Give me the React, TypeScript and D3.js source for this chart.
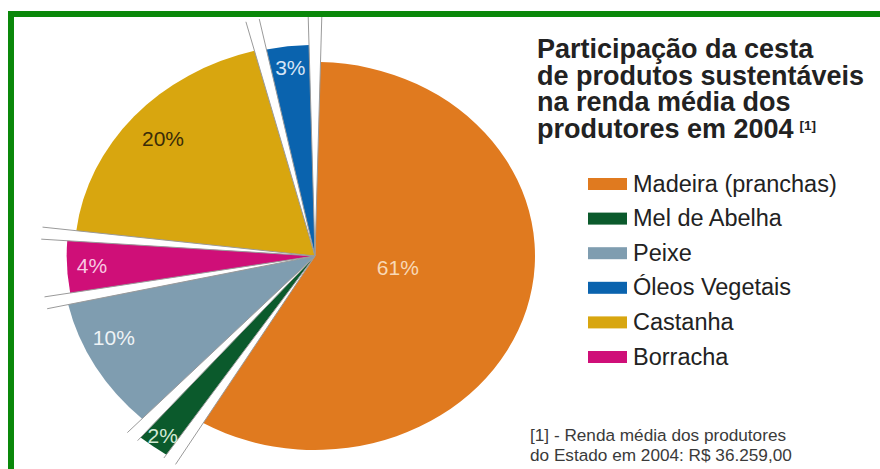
import React from "react";
import * as d3 from "d3";

// ---- data ----
const categories = ["Madeira (pranchas)", "Mel de Abelha", "Peixe", "Óleos Vegetais", "Castanha", "Borracha"];
const shares = [61, 2, 10, 3, 20, 4];
const pieOrder = ["Madeira (pranchas)", "Mel de Abelha", "Peixe", "Borracha", "Castanha", "Óleos Vegetais"];
const titleLines = ["Participação da cesta", "de produtos sustentáveis", "na renda média dos", "produtores em 2004"];
const titleNote = "[1]";
const footnoteLines = ["[1] - Renda média dos produtores", "do Estado em 2004: R$ 36.259,00"];

// ---- styles ----
const colors: Record<string, string> = {
  "Madeira (pranchas)": "#e07a1f",
  "Mel de Abelha": "#0b5a2c",
  "Peixe": "#7f9db0",
  "Óleos Vegetais": "#0a63ae",
  "Castanha": "#d8a60f",
  "Borracha": "#cf0f78",
};
const labelColors: Record<string, string> = {
  "Madeira (pranchas)": "#f8d8b6",
  "Mel de Abelha": "#d3ead6",
  "Peixe": "#eef3f6",
  "Óleos Vegetais": "#d6e5f6",
  "Castanha": "#3a2c08",
  "Borracha": "#f8c8e2",
};
const outerR: Record<string, number> = {
  "Madeira (pranchas)": 194,
  "Mel de Abelha": 238,
  "Peixe": 223,
  "Borracha": 219,
  "Castanha": 212,
  "Óleos Vegetais": 211,
};
const labelR: Record<string, number> = {
  "Madeira (pranchas)": 74,
  "Mel de Abelha": 224,
  "Peixe": 195,
  "Borracha": 197,
  "Castanha": 178,
  "Óleos Vegetais": 190,
};
const labelNudge: Record<string, number> = {
  "Madeira (pranchas)": -0.12,
  "Mel de Abelha": 0,
  "Peixe": 0.09,
  "Borracha": 0,
  "Castanha": 0,
  "Óleos Vegetais": 0,
};

const FONT = "'Liberation Sans', Arial, Helvetica, sans-serif";
const CX = 315;
const CY = 256;
const SX = 1.134;
const PAD = 0.05;
const LINE_R = 242;

export default function App() {
  const rows = pieOrder.map((c) => ({ cat: c, value: shares[categories.indexOf(c)] }));
  const pie = d3
    .pie<{ cat: string; value: number }>()
    .sort(null)
    .value((d) => d.value)
    .padAngle(PAD);
  const arcs = pie(rows);
  const arcGen = (d: d3.PieArcDatum<{ cat: string; value: number }>) =>
    d3
      .arc<d3.PieArcDatum<{ cat: string; value: number }>>()
      .innerRadius(0)
      .outerRadius(outerR[d.data.cat])
      .padAngle(0)
      .startAngle((a) => a.startAngle + a.padAngle / 2)
      .endAngle((a) => a.endAngle - a.padAngle / 2)(d) as string;

  const edges: number[] = [];
  arcs.forEach((a) => {
    edges.push(a.startAngle + a.padAngle / 2, a.endAngle - a.padAngle / 2);
  });

  const legendY = d3.scalePoint<string>().domain(categories).range([184, 357]);

  return (
    <svg
      width={880}
      height={469}
      style={{ position: "absolute", left: 0, top: 0, background: "#fff" }}
      fontFamily={FONT}
    >
      <rect x={0} y={0} width={880} height={469} fill="#fff" />
      <g transform={`translate(${CX},${CY}) scale(${SX},1)`}>
        {arcs.map((a) => (
          <path key={a.data.cat} d={arcGen(a)} fill={colors[a.data.cat]} />
        ))}
        {edges.map((ang, i) => (
          <line
            key={i}
            x1={0}
            y1={0}
            x2={LINE_R * Math.sin(ang)}
            y2={-LINE_R * Math.cos(ang)}
            stroke="#9a9a9a"
            strokeWidth={1}
            vectorEffect="non-scaling-stroke"
          />
        ))}
      </g>
      {arcs.map((a) => {
        const mid = (a.startAngle + a.endAngle) / 2 + labelNudge[a.data.cat];
        const r = labelR[a.data.cat];
        const x = CX + SX * r * Math.sin(mid);
        const y = CY - r * Math.cos(mid);
        return (
          <text
            key={a.data.cat}
            x={x}
            y={y}
            textAnchor="middle"
            dominantBaseline="central"
            fontSize={21}
            fill={labelColors[a.data.cat]}
          >
            {a.data.value}%
          </text>
        );
      })}

      {/* border */}
      <rect x={11} y={14} width={900} height={500} fill="none" stroke="#0a880a" strokeWidth={6} />

      {/* title */}
      <text fontSize={27} fontWeight="bold" fill="#222">
        {titleLines.map((t, i) => (
          <tspan key={i} x={537} y={58 + i * 26.7}>
            {t}
            {i === titleLines.length - 1 ? (
              <tspan fontSize={13.5} dx={6} dy={-8}>
                {titleNote}
              </tspan>
            ) : null}
          </tspan>
        ))}
      </text>

      {/* legend */}
      {categories.map((c) => (
        <g key={c} transform={`translate(0,${legendY(c)})`}>
          <rect x={588} y={-6} width={39} height={12} fill={colors[c]} />
          <text x={633} y={7.5} fontSize={23.5} fill="#222">
            {c}
          </text>
        </g>
      ))}

      {/* footnote */}
      {footnoteLines.map((t, i) => (
        <text key={i} x={530} y={441 + i * 20} fontSize={17.2} fill="#3a3a3a">
          {t}
        </text>
      ))}
    </svg>
  );
}
